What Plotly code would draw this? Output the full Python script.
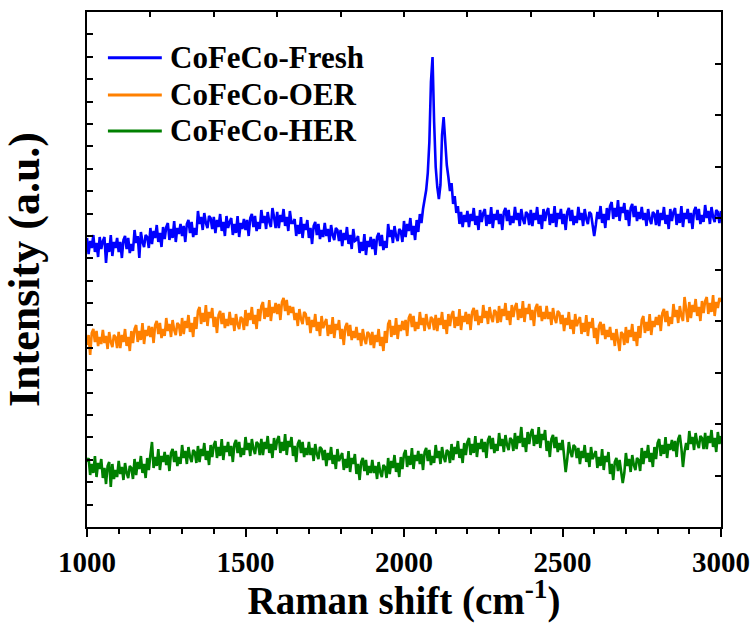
import plotly.graph_objects as go

# Raman shift grid (cm^-1), 5 cm^-1 steps
shift = list(range(1000, 3001, 5))

# Intensities (a.u., curves offset vertically)
fresh = [
    289, 273, 286, 279, 292, 275, 284, 270, 290, 278,
    286, 290, 264, 284, 275, 292, 271, 285, 279, 289,
    275, 285, 269, 287, 291, 278, 289, 274, 283, 276,
    297, 284, 291, 269, 295, 285, 280, 292, 290, 279,
    299, 283, 296, 289, 302, 285, 294, 280, 300, 288,
    300, 304, 287, 298, 289, 306, 285, 299, 293, 303,
    291, 301, 285, 303, 307, 294, 305, 290, 299, 292,
    316, 303, 310, 297, 314, 304, 299, 311, 309, 298,
    310, 294, 307, 300, 313, 296, 305, 291, 311, 299,
    305, 309, 292, 303, 294, 311, 290, 304, 298, 308,
    297, 307, 291, 309, 313, 300, 311, 296, 305, 298,
    317, 304, 311, 298, 315, 305, 300, 319, 310, 299,
    315, 299, 312, 305, 318, 301, 310, 296, 316, 304,
    304, 308, 291, 302, 293, 310, 289, 303, 297, 307,
    289, 299, 283, 301, 305, 292, 303, 288, 297, 290,
    304, 291, 298, 285, 302, 292, 287, 299, 297, 286,
    297, 281, 294, 287, 300, 283, 292, 278, 298, 286,
    287, 291, 274, 285, 276, 293, 272, 286, 280, 290,
    278, 288, 272, 290, 294, 281, 292, 277, 286, 279,
    303, 290, 297, 284, 301, 291, 286, 298, 296, 285,
    306, 290, 303, 296, 309, 292, 301, 287, 307, 295,
    313, 304, 318, 328, 337, 354, 385, 445, 470, 405,
    360, 340, 328, 342, 392, 410, 382, 362, 350, 336,
    344, 323, 331, 314, 321, 303, 315, 300, 312, 305,
    316, 300, 313, 306, 319, 302, 311, 297, 317, 305,
    314, 318, 301, 312, 303, 320, 299, 313, 307, 317,
    303, 313, 297, 315, 319, 306, 317, 302, 311, 304,
    320, 307, 314, 301, 318, 308, 303, 315, 313, 302,
    317, 301, 314, 307, 320, 303, 312, 298, 318, 306,
    315, 319, 302, 313, 304, 321, 300, 314, 308, 318,
    303, 313, 297, 315, 319, 306, 317, 302, 311, 304,
    320, 307, 314, 301, 318, 308, 303, 315, 313, 302,
    291, 302, 315, 308, 321, 304, 313, 299, 319, 307,
    321, 325, 308, 319, 310, 327, 306, 320, 314, 324,
    307, 317, 301, 319, 323, 310, 321, 306, 315, 308,
    320, 307, 314, 301, 318, 308, 303, 315, 313, 302,
    317, 301, 314, 307, 320, 303, 312, 298, 318, 306,
    315, 319, 302, 313, 304, 321, 300, 314, 308, 318,
    304, 314, 298, 316, 320, 307, 318, 303, 312, 305,
    322, 309, 316, 303, 320, 310, 305, 317, 315, 304,
    316,
]

oer = [
    182, 192, 172, 194, 198, 185, 196, 181, 190, 183,
    197, 184, 191, 178, 195, 185, 180, 192, 190, 179,
    195, 179, 192, 185, 198, 181, 190, 176, 196, 184,
    198, 202, 185, 196, 187, 204, 183, 197, 191, 201,
    190, 200, 184, 202, 206, 193, 204, 189, 198, 191,
    209, 196, 203, 190, 207, 197, 192, 204, 202, 191,
    209, 193, 206, 199, 212, 195, 204, 190, 210, 198,
    216, 220, 203, 214, 205, 222, 201, 215, 209, 219,
    200, 210, 194, 212, 216, 203, 214, 199, 208, 201,
    215, 202, 209, 196, 213, 203, 198, 210, 208, 197,
    217, 201, 214, 207, 220, 203, 212, 198, 218, 206,
    221, 225, 208, 219, 210, 227, 206, 220, 214, 224,
    213, 223, 207, 225, 229, 216, 227, 212, 221, 214,
    220, 207, 214, 201, 218, 208, 203, 215, 213, 202,
    210, 194, 207, 200, 213, 196, 205, 191, 211, 199,
    204, 208, 191, 202, 193, 210, 189, 203, 197, 207,
    188, 198, 182, 200, 204, 191, 202, 187, 196, 189,
    200, 187, 194, 181, 198, 188, 183, 195, 193, 182,
    195, 179, 192, 185, 198, 181, 190, 176, 196, 184,
    203, 207, 190, 201, 192, 209, 188, 202, 196, 206,
    197, 207, 191, 209, 213, 200, 211, 196, 205, 198,
    215, 202, 209, 196, 213, 203, 198, 210, 208, 197,
    212, 196, 209, 202, 215, 198, 207, 193, 213, 201,
    212, 216, 199, 210, 201, 218, 197, 211, 205, 215,
    203, 213, 197, 215, 219, 206, 217, 202, 211, 204,
    222, 209, 216, 203, 220, 210, 205, 217, 215, 204,
    221, 205, 218, 211, 224, 207, 216, 202, 222, 210,
    220, 224, 207, 218, 209, 226, 205, 219, 213, 223,
    207, 217, 201, 219, 223, 210, 221, 206, 215, 208,
    221, 208, 215, 202, 219, 209, 204, 216, 214, 203,
    212, 196, 209, 202, 215, 198, 207, 193, 213, 201,
    206, 210, 193, 204, 195, 212, 191, 205, 199, 209,
    189, 199, 183, 201, 205, 192, 203, 188, 197, 190,
    200, 187, 194, 181, 198, 188, 176, 195, 193, 182,
    200, 184, 197, 190, 203, 186, 195, 181, 201, 189,
    207, 211, 194, 205, 196, 213, 192, 206, 200, 210,
    202, 212, 196, 214, 218, 205, 216, 201, 210, 203,
    223, 210, 217, 204, 221, 211, 206, 230, 216, 205,
    225, 209, 222, 215, 228, 211, 220, 206, 226, 214,
    226, 230, 213, 224, 215, 232, 211, 225, 219, 229,
    225,
]

her = [
    65, 69, 52, 63, 54, 71, 50, 64, 58, 68,
    49, 59, 43, 61, 65, 40, 63, 48, 57, 50,
    66, 53, 60, 47, 64, 54, 49, 61, 59, 48,
    68, 52, 65, 58, 71, 54, 63, 49, 69, 57,
    72, 85, 59, 70, 61, 78, 57, 71, 65, 75,
    62, 72, 56, 74, 78, 65, 76, 61, 70, 63,
    82, 69, 76, 63, 80, 70, 65, 77, 75, 64,
    81, 65, 78, 71, 84, 67, 76, 62, 82, 70,
    82, 86, 69, 80, 71, 88, 67, 81, 75, 85,
    71, 81, 65, 83, 87, 74, 85, 70, 79, 72,
    90, 77, 84, 71, 88, 78, 73, 85, 83, 72,
    88, 72, 85, 78, 91, 74, 83, 69, 89, 77,
    87, 91, 74, 85, 76, 93, 72, 86, 80, 90,
    71, 81, 65, 83, 87, 74, 85, 70, 79, 72,
    85, 72, 79, 66, 83, 73, 68, 80, 78, 67,
    77, 61, 74, 67, 80, 63, 72, 58, 78, 66,
    70, 74, 57, 68, 59, 76, 55, 69, 63, 73,
    53, 63, 47, 65, 69, 56, 67, 52, 61, 54,
    67, 54, 61, 48, 65, 55, 50, 62, 60, 49,
    69, 53, 66, 59, 72, 55, 64, 50, 70, 58,
    73, 77, 60, 71, 62, 79, 58, 72, 66, 76,
    63, 73, 57, 75, 79, 66, 77, 62, 71, 64,
    82, 69, 76, 63, 80, 70, 65, 77, 75, 64,
    83, 67, 80, 73, 86, 69, 78, 64, 84, 72,
    85, 89, 72, 83, 74, 91, 70, 84, 78, 88,
    75, 85, 69, 87, 91, 78, 89, 74, 83, 76,
    94, 81, 88, 75, 92, 82, 77, 89, 87, 76,
    94, 78, 91, 84, 100, 80, 89, 75, 95, 83,
    94, 98, 81, 92, 83, 100, 79, 93, 87, 97,
    76, 86, 70, 88, 92, 79, 90, 75, 84, 77,
    87, 74, 55, 68, 85, 75, 70, 82, 80, 69,
    79, 63, 76, 69, 82, 65, 74, 60, 80, 68,
    72, 76, 59, 70, 61, 78, 57, 71, 65, 75,
    53, 63, 47, 65, 69, 56, 67, 52, 44, 54,
    74, 61, 68, 55, 72, 62, 57, 69, 67, 56,
    79, 63, 76, 69, 82, 65, 74, 60, 80, 68,
    84, 88, 71, 82, 73, 90, 69, 83, 77, 87,
    76, 86, 70, 88, 92, 79, 60, 75, 84, 77,
    96, 83, 90, 77, 94, 84, 79, 91, 89, 78,
    94, 78, 91, 84, 97, 80, 89, 75, 95, 83,
    91,
]

names = ["CoFeCo-Fresh", "CoFeCo-OER", "CoFeCo-HER"]
colors = ["#0000FF", "#FF8000", "#008000"]

FONT = "Liberation Serif"

fig = go.Figure()
for ys, name, col in zip([fresh, oer, her], names, colors):
    fig.add_trace(go.Scatter(x=shift, y=ys, mode="lines", name=name,
                             line=dict(color=col, width=2.6),
                             showlegend=False))

# helper trace so the top/right frame axes get drawn
fig.add_trace(go.Scatter(x=[None], y=[None], xaxis="x2", yaxis="y2",
                         showlegend=False, hoverinfo="skip"))

# legend drawn as line samples + labels
leg_y = [0.911, 0.839, 0.769]
for name, col, yy in zip(names, colors, leg_y):
    fig.add_shape(type="line", xref="paper", yref="paper",
                  x0=0.033, x1=0.118, y0=yy, y1=yy,
                  line=dict(color=col, width=3))
    fig.add_annotation(x=0.128, y=yy, xref="paper", yref="paper",
                       text=name, showarrow=False, xanchor="left",
                       yanchor="middle",
                       font=dict(family=FONT, size=31, color="black",
                                 weight="bold"))

fig.update_layout(
    template="none",
    width=755, height=623,
    margin=dict(l=87, r=34, t=12, b=96, autoexpand=False),
    paper_bgcolor="white", plot_bgcolor="white",
    font=dict(family=FONT, color="black"),
    xaxis=dict(
        range=[1000, 3000], tickvals=[1000, 1500, 2000, 2500, 3000],
        automargin=False,
        ticks="outside", ticklen=8, tickwidth=2, tickcolor="black",
        minor=dict(dtick=100, ticks="outside", ticklen=5, tickwidth=1.5,
                   tickcolor="black"),
        showline=True, linewidth=2, linecolor="black", showgrid=False,
        zeroline=False,
        tickfont=dict(family=FONT, size=29, weight="bold"),
        title=dict(text="Raman shift (cm<sup>-1</sup>)", standoff=8,
                   font=dict(family=FONT, size=39, weight="bold")),
    ),
    xaxis2=dict(
        range=[1000, 3000], overlaying="x", side="top", anchor="y2",
        automargin=False,
        dtick=200, tick0=1000, ticks="inside", ticklen=5, tickwidth=1.5,
        tickcolor="black", showticklabels=False,
        showline=True, linewidth=2, linecolor="black", showgrid=False,
        zeroline=False,
    ),
    yaxis=dict(
        range=[0, 515], dtick=515 / 23, tick0=0, automargin=False,
        ticks="inside", ticklen=6, tickwidth=1.5, tickcolor="black",
        showticklabels=False,
        showline=True, linewidth=2, linecolor="black", showgrid=False,
        zeroline=False,
        title=dict(text="Intensity (a.u.)", standoff=36,
                   font=dict(family=FONT, size=44, weight="bold")),
    ),
    yaxis2=dict(
        range=[0, 10], dtick=1, overlaying="y", side="right", anchor="x2",
        automargin=False,
        ticks="inside", ticklen=6, tickwidth=1.5, tickcolor="black",
        showticklabels=False,
        showline=True, linewidth=2, linecolor="black", showgrid=False,
        zeroline=False,
    ),
)

fig.write_html("out.html")
